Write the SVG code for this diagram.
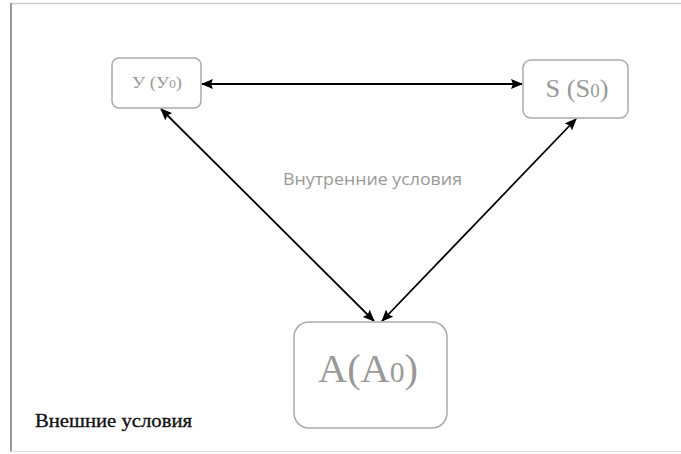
<svg xmlns="http://www.w3.org/2000/svg" width="681" height="454" viewBox="0 0 681 454">
<defs>
<marker id="ah" viewBox="0 0 12 10" refX="11" refY="5" markerWidth="12" markerHeight="10" markerUnits="userSpaceOnUse" orient="auto-start-reverse">
<path d="M0,0 L12,5 L0,10 L2,5 z" fill="#000"/>
</marker>
</defs>
<style>
.node{fill:#fff;stroke:#aaa;stroke-width:1.5}
.lbl{font-family:"Liberation Serif",serif;fill:#999;text-anchor:middle}
.conn{stroke:#000;stroke-width:1.8;fill:none;marker-start:url(#ah);marker-end:url(#ah)}
</style>
<rect x="0" y="0" width="681" height="454" fill="#fff"/>
<g id="frame">
<line x1="10.5" y1="3.5" x2="681" y2="3.5" stroke="#ccc" stroke-width="1.5"/>
<line x1="11" y1="3" x2="11" y2="452" stroke="#999" stroke-width="2"/>
<line x1="10.5" y1="451.5" x2="681" y2="451.5" stroke="#ddd" stroke-width="1"/>
</g>
<g id="connectors">
<line class="conn" x1="202" y1="84" x2="522" y2="84"/>
<line class="conn" x1="161" y1="109" x2="374" y2="321"/>
<line class="conn" x1="576" y1="119" x2="382" y2="321"/>
</g>
<g id="nodeY">
<rect class="node" x="112" y="58" width="89" height="50" rx="7"/>
<text class="lbl" x="157" y="88" font-size="17" textLength="50" lengthAdjust="spacingAndGlyphs">У (У<tspan font-size="12">0</tspan>)</text>
</g>
<g id="nodeS">
<rect class="node" x="523" y="60" width="105" height="58" rx="8"/>
<text class="lbl" x="577" y="97" font-size="25" textLength="63" lengthAdjust="spacingAndGlyphs">S (S<tspan font-size="18">0</tspan>)</text>
</g>
<g id="nodeA">
<rect class="node" x="294" y="322" width="153" height="106" rx="15"/>
<text class="lbl" x="368" y="382" font-size="41" textLength="100" lengthAdjust="spacingAndGlyphs">A(A<tspan font-size="30">0</tspan>)</text>
</g>
<text id="inner" x="283" y="185" font-family="'Open Sans','Liberation Sans',sans-serif" font-size="16" fill="#999" textLength="179" lengthAdjust="spacingAndGlyphs">Внутренние условия</text>
<text id="outer" x="35" y="427" font-family="'Liberation Serif',serif" font-size="18" fill="#111" stroke="#111" stroke-width="0.3" textLength="157" lengthAdjust="spacingAndGlyphs">Внешние условия</text>
</svg>
